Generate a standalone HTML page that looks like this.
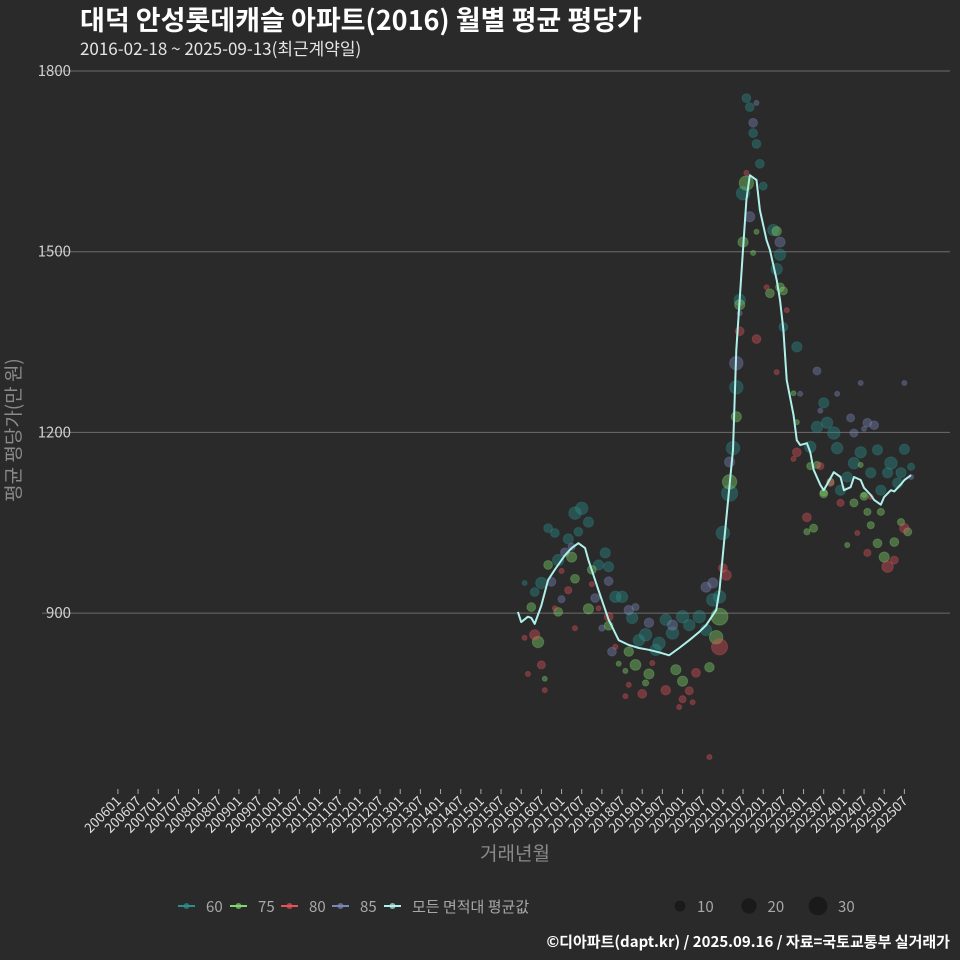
<!DOCTYPE html>
<html><head><meta charset="utf-8">
<style>
html,body{margin:0;padding:0;background:#2a2a2b;}
svg{display:block;font-family:"Noto Sans CJK KR","Liberation Sans",sans-serif;}
</style></head>
<body>
<svg id="chart" width="960" height="960" viewBox="0 0 960 960" xmlns="http://www.w3.org/2000/svg">
<rect x="0" y="0" width="960" height="960" fill="#2a2a2b"/>
<text x="80" y="30" font-size="27" font-weight="bold" fill="#ffffff">대덕 안성롯데캐슬 아파트(2016) 월별 평균 평당가</text>
<text x="80" y="55" font-size="17" fill="#e6e6e6">2016-02-18 ~ 2025-09-13(최근계약일)</text>
<g id="grid"></g>
<g id="yticks"></g>
<g id="xticks"></g>
<text transform="translate(20,430) rotate(-90)" text-anchor="middle" font-size="19" fill="#8a8a8a">평균 평당가(만 원)</text>
<text x="515" y="860" text-anchor="middle" font-size="19" fill="#8a8a8a">거래년월</text>
<g id="points"></g>
<g id="avgline"></g>
<g id="legend"></g>
<text x="950" y="947" text-anchor="end" font-size="15" font-weight="bold" fill="#ffffff">©디아파트(dapt.kr) / 2025.09.16 / 자료=국토교통부 실거래가</text>
</svg>
<script>
const yTicks = [900, 1200, 1500, 1800];
const avgMonths = ["2015-12","2016-01","2016-03","2016-04","2016-05","2016-07","2016-09","2016-11","2017-02","2017-04","2017-06","2017-08","2017-09","2017-12","2018-03","2018-06","2018-09","2018-12","2019-03","2019-06","2019-09","2019-12","2020-03","2020-06","2020-08","2020-11","2020-12","2021-02","2021-04","2021-05","2021-07","2021-08","2021-09","2021-11","2021-12","2022-02","2022-03","2022-05","2022-06","2022-07","2022-08","2022-10","2022-11","2022-12","2023-02","2023-03","2023-04","2023-06","2023-07","2023-09","2023-10","2023-12","2024-01","2024-03","2024-04","2024-06","2024-07","2024-09","2024-10","2024-12","2025-01","2025-03","2025-04","2025-06","2025-07","2025-09"];
const avgValues = [902,885,894,892,882,913,955,972,996,1008,1016,1008,988,938,889,855,847,842,839,835,830,842,855,869,880,905,938,1055,1171,1337,1503,1586,1627,1619,1569,1519,1503,1453,1420,1370,1287,1229,1187,1179,1182,1167,1138,1113,1104,1124,1134,1126,1104,1109,1126,1121,1108,1096,1088,1080,1093,1104,1102,1114,1121,1129];

const s60Months = ["2017-05","2017-07","2017-09","2016-09","2016-11","2017-06","2017-03","2016-12","2016-07","2016-05","2016-02","2018-02","2018-03","2017-12","2018-05","2018-07","2018-10","2019-02","2019-06","2019-10","2020-01","2020-06","2020-10","2020-12","2021-01","2018-12","2019-05","2020-03","2020-08","2019-08","2021-08","2021-09","2021-10","2021-11","2021-12","2022-01","2021-07","2022-04","2022-06","2022-05","2022-07","2022-11","2021-06","2021-05","2021-04","2021-03","2023-07","2023-05","2023-08","2023-10","2023-11","2023-03","2024-06","2024-11","2025-03","2025-07","2025-09","2024-04","2024-02","2024-09","2025-02","2025-06","2025-05","2023-12","2024-12"];
const s60Values = [1066,1074,1051,1041,1033,1035,1023,988,950,935,950,1000,977,980,927,927,892,864,850,867,894,894,922,927,1033,855,839,880,872,889,1755,1740,1697,1679,1646,1609,1597,1536,1495,1471,1375,1342,1420,1275,1174,1099,1249,1209,1216,1199,1174,1176,1167,1171,1149,1172,1143,1149,1126,1133,1133,1133,1116,1104,1104];
const s60Counts = [12,12,8,6,6,6,8,10,10,6,2,8,8,8,10,10,10,12,12,12,12,12,12,12,14,10,10,10,10,10,6,6,6,6,6,5,14,10,10,10,6,8,10,14,14,20,8,10,10,12,10,10,10,8,12,8,4,10,8,8,8,8,8,8,8];

const s75Months = ["2016-09","2017-04","2017-05","2017-10","2016-04","2016-12","2017-09","2016-06","2018-03","2018-09","2018-11","2019-03","2019-11","2020-01","2020-09","2018-06","2018-08","2019-02","2016-08","2020-12","2020-11","2023-04","2023-02","2025-01","2025-04","2024-11","2024-09","2024-02","2025-06","2025-08","2023-07","2024-07","2024-12","2024-08","2024-04","2021-08","2021-07","2021-11","2022-05","2021-10","2022-06","2022-03","2022-07","2021-06","2021-05","2021-03","2022-10","2022-11","2023-05","2023-03","2023-09","2023-07","2024-06","2024-07"];
const s75Values = [980,993,957,972,910,902,907,852,879,836,814,799,806,787,810,816,804,784,791,894,860,1041,1035,993,1018,1016,1046,1013,1051,1035,1098,1094,1068,1068,1083,1614,1516,1533,1534,1498,1441,1431,1435,1412,1226,1118,1265,1217,1146,1144,1118,1100,1146,1096];
const s75Counts = [6,8,6,6,6,6,8,10,6,7,9,8,8,8,7,2,2,3,2,22,14,5,3,8,6,6,4,2,4,5,5,5,4,4,5,16,8,2,7,2,6,6,5,8,8,16,2,2,4,4,4,4,2,2];

const s80Months = ["2017-03","2017-05","2016-07","2016-03","2016-08","2016-02","2016-05","2017-10","2017-12","2018-03","2018-05","2019-04","2019-01","2018-08","2018-09","2019-08","2020-01","2020-03","2020-05","2020-04","2019-12","2020-12","2021-02","2021-01","2017-01","2016-11","2020-09","2024-08","2025-02","2025-04","2025-07","2023-02","2024-05","2023-12","2021-08","2022-02","2022-08","2021-06","2021-11","2022-05","2022-11","2022-10","2023-06","2023-09","2024-09"];
const s80Values = [938,875,814,799,772,859,864,948,908,894,844,817,766,762,781,772,757,771,801,752,744,844,963,975,970,908,661,1000,977,988,1041,1059,1033,1083,1631,1441,1403,1368,1355,1300,1167,1156,1144,1116,1093];
const s80Counts = [4,2,5,2,2,2,8,2,2,6,2,2,6,2,2,7,4,5,6,2,2,20,8,6,2,2,2,4,10,5,7,6,2,4,2,2,2,6,6,2,6,2,4,4,2];

const s85Months = ["2017-02","2017-04","2016-10","2017-01","2017-11","2018-01","2018-03","2018-11","2018-09","2019-03","2019-10","2020-08","2020-10","2018-04","2021-11","2021-10","2021-09","2022-06","2021-05","2021-06","2021-03","2023-05","2024-06","2025-07","2023-11","2022-12","2023-06","2024-03","2024-08","2024-10","2024-04","2024-07","2025-09"];
const s85Values = [1001,1010,952,923,925,875,953,910,905,884,880,943,950,836,1747,1714,1558,1516,1315,1398,1151,1302,1282,1282,1264,1264,1236,1224,1216,1212,1199,1206,1126];
const s85Counts = [6,4,6,4,6,3,6,4,7,7,8,8,8,6,2,6,8,8,14,2,8,5,2,2,2,2,2,5,6,6,5,2,2];

const xTickYears = [2006,2007,2008,2009,2010,2011,2012,2013,2014,2015,2016,2017,2018,2019,2020,2021,2022,2023,2024,2025];
const xTickMonths = ["01","07"];

const NS = "http://www.w3.org/2000/svg";
function monthIndex(s){const p=s.split("-");return (parseInt(p[0],10)-2006)*12+parseInt(p[1],10)-1;}
function xScale(s){return 117.9 + monthIndex(s)*3.361;}
function yScale(v){return 71 + (1800 - v)*0.60234;}
function rScale(n){return 1.8*Math.sqrt(n);}
function mk(tag, attrs, parent){const e=document.createElementNS(NS,tag);for(const k in attrs)e.setAttribute(k,attrs[k]);parent.appendChild(e);return e;}

const grid=document.getElementById("grid"), yt=document.getElementById("yticks"), xt=document.getElementById("xticks");
yTicks.forEach(v=>{
  const l=mk("line",{x1:42,x2:950,y1:yScale(v),y2:yScale(v),stroke:"#6c6c6c","stroke-width":1},grid);
  
  
  const t=mk("text",{x:71,y:yScale(v)+5,"text-anchor":"end","font-size":15,fill:"#d0d0d0"},yt);
  t.textContent=v;
  
  
});
xTickYears.forEach(yr=>{
  xTickMonths.forEach(mo=>{
    const s=yr+"-"+mo;
    const x=xScale(s);
    const tk=mk("line",{x1:x,x2:x,y1:789,y2:794,stroke:"#aaaaaa","stroke-width":1},xt);
    
    
    const t=mk("text",{transform:"translate("+(x+4)+",802) rotate(-45)","text-anchor":"end","font-size":13.5,fill:"#dddddd"},xt);
    t.textContent=yr+mo;
    
    
  });
});

const colors={"60":"#2a8f8c","75":"#82d66c","80":"#e2535b","85":"#7a86b8"};
const pts=document.getElementById("points");
function drawSeries(key, months, values, counts){
  months.forEach((m,i)=>{
    const c=mk("circle",{cx:xScale(m),cy:yScale(values[i]),r:rScale(counts[i]),fill:colors[key],"fill-opacity":0.4,stroke:colors[key],"stroke-opacity":0.3,"stroke-width":1},pts);
    
    
  });
}
drawSeries("60",s60Months,s60Values,s60Counts);
drawSeries("85",s85Months,s85Values,s85Counts);
drawSeries("75",s75Months,s75Values,s75Counts);
drawSeries("80",s80Months,s80Values,s80Counts);

const al=document.getElementById("avgline");
const d=avgMonths.map((m,i)=>(i?"L":"M")+xScale(m).toFixed(1)+","+yScale(avgValues[i]).toFixed(1)).join(" ");
const path=mk("path",{d:d,fill:"none",stroke:"#b0f0ea","stroke-width":2,"stroke-linejoin":"round"},al);



const lg=document.getElementById("legend");
const legendItems=[["60",178,"#2a8f8c","60"],["75",230,"#82d66c","75"],["80",281,"#e2535b","80"],["85",332,"#7a86b8","85"],["avg",384,"#b0f0ea","모든 면적대 평균값"]];
legendItems.forEach(it=>{
  const g=mk("g",{},lg);
  
  
  mk("line",{x1:it[1],x2:it[1]+17,y1:906,y2:906,stroke:it[2],"stroke-width":2},g);
  mk("circle",{cx:it[1]+8.5,cy:906,r:3,fill:it[2],"fill-opacity":0.7},g);
  const t=mk("text",{x:it[1]+28,y:912,"font-size":15,fill:"#a8a8a8"},g);
  t.textContent=it[3];
});
const sizeItems=[[10,680],[20,749],[30,818]];
sizeItems.forEach(it=>{
  const g=mk("g",{},lg);
  
  
  mk("circle",{cx:it[1],cy:906,r:rScale(it[0])*0.95,fill:"#1a1a1b"},g);
  const t=mk("text",{x:it[1]+17+(it[0]-10)*0.15,y:912,"font-size":15,fill:"#a8a8a8"},g);
  t.textContent=it[0];
});
</script>
</body></html>
